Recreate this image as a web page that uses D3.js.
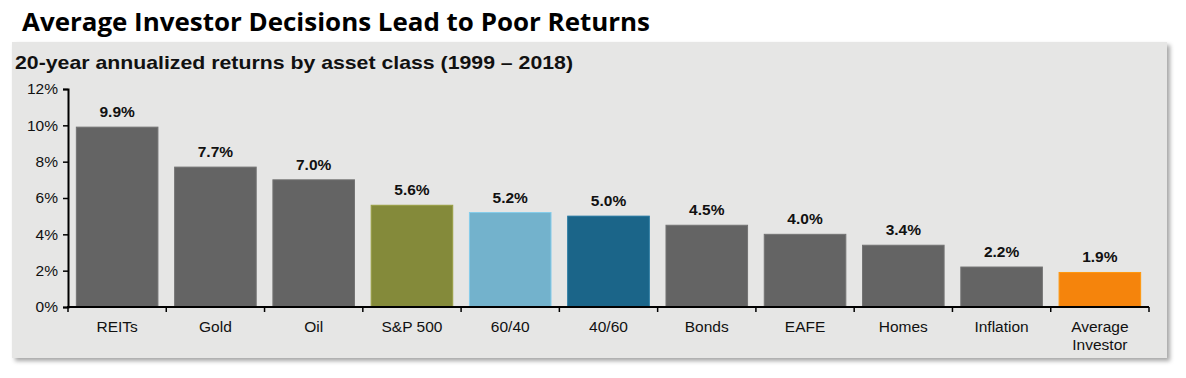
<!DOCTYPE html>
<html><head><meta charset="utf-8">
<script src="https://cdn.jsdelivr.net/npm/d3@7"></script>
<style>body{margin:0;background:#fff;} svg{display:block;}</style>
</head><body>
<svg id="c" width="1186" height="378"></svg>
<script>
const categories = ["REITs","Gold","Oil","S&P 500","60/40","40/60","Bonds","EAFE","Homes","Inflation","Average Investor"];
const values = [9.9,7.7,7.0,5.6,5.2,5.0,4.5,4.0,3.4,2.2,1.9];
const colors = ["#646464","#646464","#646464","#848A3A","#73B2CC","#1B6589","#646464","#646464","#646464","#646464","#F5840C"];
const yTicks = [0,2,4,6,8,10,12];
const title = "Average Investor Decisions Lead to Poor Returns";
const subtitle = "20-year annualized returns by asset class (1999 – 2018)";

const svg = d3.select("#c");
const defs = svg.append("defs");
const f = defs.append("filter").attr("id","sh").attr("x","-5%").attr("y","-5%").attr("width","110%").attr("height","120%");
f.append("feDropShadow").attr("dx",3).attr("dy",3).attr("stdDeviation",2).attr("flood-color","#000").attr("flood-opacity",0.35);

svg.append("rect").attr("x",12).attr("y",42).attr("width",1155).attr("height",316).attr("fill","#E6E6E5").attr("filter","url(#sh)");

svg.append("text").attr("x",22).attr("y",31).text(title)
  .attr("font-family","'Open Sans', sans-serif").attr("font-weight",700).attr("font-size",24.5).attr("fill","#000")
  .attr("textLength",628).attr("lengthAdjust","spacingAndGlyphs");
svg.append("text").attr("x",15).attr("y",69).text(subtitle)
  .attr("font-family","'Liberation Sans', Arial, sans-serif").attr("font-weight",700).attr("font-size",19).attr("fill","#111")
  .attr("textLength",558).attr("lengthAdjust","spacingAndGlyphs");

const x = d3.scaleBand().domain(categories).range([68,1149]).paddingInner(0.17).paddingOuter(0.085);
const y = d3.scaleLinear().domain([0,12]).range([307,89]);

const g = svg.append("g");
g.selectAll("rect.bar").data(values).join("rect").attr("class","bar")
  .attr("x",(d,i)=>x(categories[i])).attr("width",x.bandwidth())
  .attr("y",d=>y(d)).attr("height",d=>y(0)-y(d))
  .attr("fill",(d,i)=>colors[i]).attr("stroke",(d,i)=>d3.color(colors[i]).brighter(0.4)).attr("stroke-width",1);

g.selectAll("text.val").data(values).join("text").attr("class","val")
  .attr("x",(d,i)=>x(categories[i])+x.bandwidth()/2).attr("y",d=>y(d)-10)
  .attr("text-anchor","middle").attr("font-family","'Liberation Sans', Arial, sans-serif")
  .attr("font-weight",700).attr("font-size",15.5).attr("fill","#111").text(d=>d.toFixed(1)+"%");

// y axis
const ya = svg.append("g").attr("transform","translate(68,0)")
  .call(d3.axisLeft(y).tickValues(yTicks).tickFormat(d=>d+"%").tickSize(5).tickPadding(5));
ya.select(".domain").attr("stroke","#000").attr("stroke-width",2);
ya.selectAll(".tick line").attr("stroke","#000").attr("stroke-width",1.5);
ya.selectAll(".tick text").attr("font-family","'Liberation Sans', Arial, sans-serif").attr("font-size",15.5).attr("fill","#111");

// x axis
const bounds = d3.range(categories.length+1).map(i=>68 + i*(1149-68)/categories.length);
svg.append("line").attr("x1",67).attr("x2",1149).attr("y1",307).attr("y2",307).attr("stroke","#000").attr("stroke-width",2);
svg.selectAll("line.xt").data(bounds).join("line").attr("class","xt")
  .attr("x1",d=>d).attr("x2",d=>d).attr("y1",307).attr("y2",312).attr("stroke","#000").attr("stroke-width",1.5);

svg.selectAll("text.cat").data(categories).join("text").attr("class","cat")
  .attr("x",d=>x(d)+x.bandwidth()/2).attr("y",332)
  .attr("text-anchor","middle").attr("font-family","'Liberation Sans', Arial, sans-serif")
  .attr("font-size",15.5).attr("fill","#111")
  .each(function(d){
    const words = d==="Average Investor" ? ["Average","Investor"] : [d];
    d3.select(this).selectAll("tspan").data(words).join("tspan")
      .attr("x",x(d)+x.bandwidth()/2).attr("dy",(w,i)=>i===0?0:18).text(w=>w);
  });
</script>
</body></html>
